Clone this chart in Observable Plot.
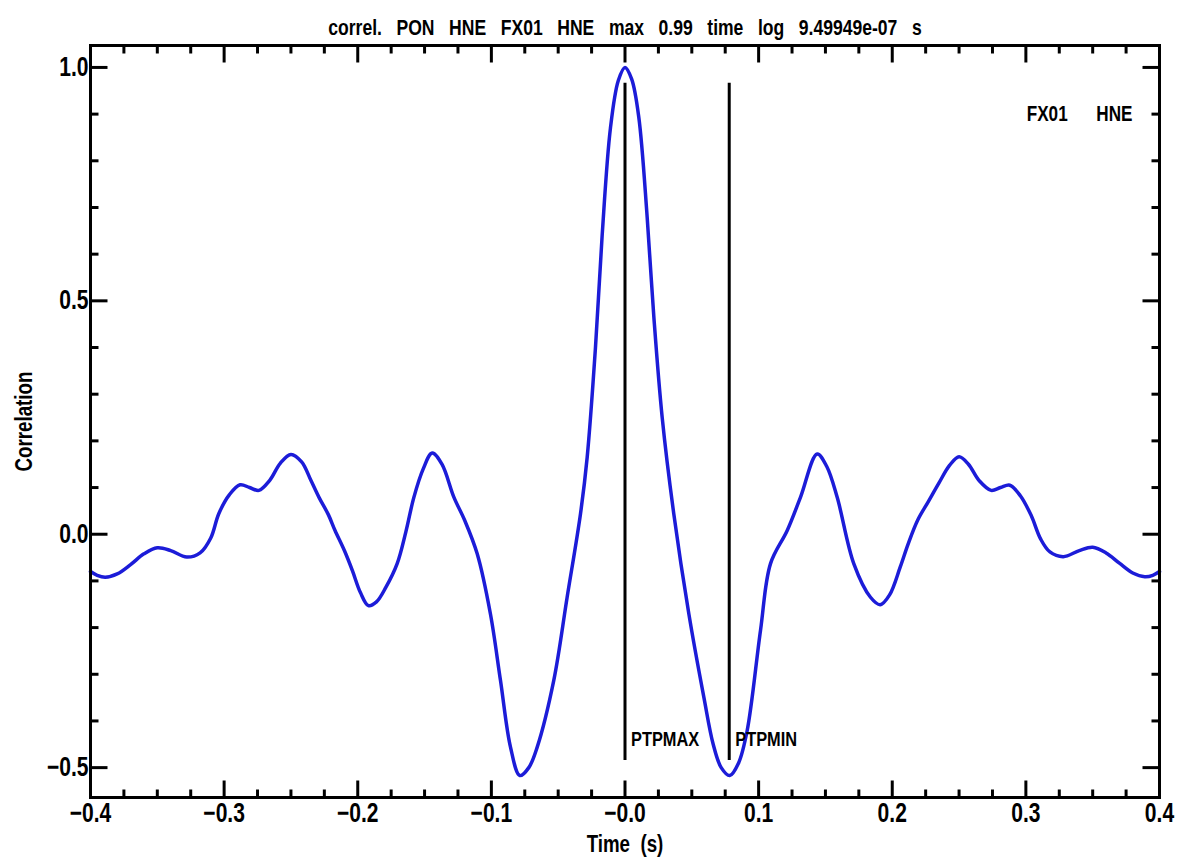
<!DOCTYPE html>
<html>
<head>
<meta charset="utf-8">
<script src="https://cdn.jsdelivr.net/npm/d3@7"></script>
<script src="https://cdn.jsdelivr.net/npm/@observablehq/plot@0.6"></script>
<style>
  html, body { margin: 0; padding: 0; background: #fff; }
  #chart svg { display: block; }
</style>
</head>
<body>
<div id="chart"></div>
<script>
// ---- data ----
const timeS = [
  -0.400, -0.395, -0.389, -0.380, -0.370, -0.360, -0.350, -0.340, -0.328, -0.318,
  -0.310, -0.304, -0.296, -0.288, -0.281, -0.274, -0.266, -0.258, -0.250, -0.242,
  -0.235, -0.229, -0.222, -0.217, -0.210, -0.204, -0.198, -0.192, -0.186, -0.179,
  -0.1705, -0.164, -0.158, -0.151, -0.1443, -0.137, -0.128, -0.120, -0.1106, -0.1007,
  -0.0932, -0.0857, -0.0787, -0.072, -0.0657, -0.0533, -0.0433, -0.0333, -0.0283, -0.0221,
  -0.0171, -0.0109, -0.005, 0.000, 0.005, 0.0103, 0.0166, 0.0216, 0.0278, 0.0365,
  0.0478, 0.059, 0.066, 0.072, 0.0784, 0.085, 0.0914, 0.1014, 0.1089, 0.1214,
  0.1313, 0.1438, 0.151, 0.1588, 0.1712, 0.1837, 0.191, 0.198, 0.206, 0.212,
  0.219, 0.227, 0.235, 0.243, 0.250, 0.257, 0.265, 0.274, 0.281, 0.288,
  0.296, 0.304, 0.311, 0.318, 0.328, 0.340, 0.350, 0.360, 0.370, 0.380,
  0.389, 0.395, 0.400
];
const correlation = [
  -0.080, -0.088, -0.092, -0.085, -0.065, -0.042, -0.029, -0.035, -0.049, -0.040,
  -0.008, 0.044, 0.085, 0.106, 0.100, 0.094, 0.115, 0.152, 0.171, 0.155,
  0.115, 0.079, 0.042, 0.008, -0.035, -0.078, -0.125, -0.153, -0.145, -0.114,
  -0.063, 0.005, 0.079, 0.140, 0.174, 0.150, 0.079, 0.030, -0.042, -0.171,
  -0.313, -0.456, -0.517, -0.500, -0.456, -0.313, -0.135, 0.044, 0.165, 0.400,
  0.640, 0.870, 0.972, 1.000, 0.975, 0.894, 0.679, 0.465, 0.251, 0.044,
  -0.171, -0.349, -0.450, -0.500, -0.517, -0.490, -0.421, -0.206, -0.063, 0.008,
  0.079, 0.172, 0.145, 0.079, -0.063, -0.135, -0.151, -0.130, -0.070, -0.020,
  0.030, 0.070, 0.110, 0.148, 0.166, 0.150, 0.115, 0.094, 0.100, 0.105,
  0.082, 0.040, -0.010, -0.038, -0.048, -0.035, -0.028, -0.040, -0.062, -0.083,
  -0.091, -0.088, -0.080
];

const markerNames = ["PTPMAX", "PTPMIN"];
const markerTimes = [0.000, 0.078];
const markerTop = [0.966, 0.966];
const markerBottom = [-0.485, -0.485];

const xMajorTicks = [-0.4, -0.3, -0.2, -0.1, 0.0, 0.1, 0.2, 0.3, 0.4];
const xMajorLabels = ["\u22120.4", "\u22120.3", "\u22120.2", "\u22120.1", "\u22120.0", "0.1", "0.2", "0.3", "0.4"];
const xMinorTicks = [-0.375, -0.35, -0.325, -0.275, -0.25, -0.225, -0.175, -0.15, -0.125,
  -0.075, -0.05, -0.025, 0.025, 0.05, 0.075, 0.125, 0.15, 0.175, 0.225, 0.25, 0.275, 0.325, 0.35, 0.375];
const yMajorTicks = [-0.5, 0.0, 0.5, 1.0];
const yMajorLabels = ["\u22120.5", "0.0", "0.5", "1.0"];
const yMinorTicks = [-0.4, -0.3, -0.2, -0.1, 0.1, 0.2, 0.3, 0.4, 0.6, 0.7, 0.8, 0.9];

const titleText = "correl.   PON   HNE   FX01   HNE   max   0.99   time   log   9.49949e-07   s";
const stationLabel = "FX01      HNE";
const xLabel = "Time  (s)";
const yLabel = "Correlation";

// ---- build ----
const series = timeS.map((t, i) => ({t, c: correlation[i]}));
const markers = markerNames.map((n, i) => ({name: n, t: markerTimes[i], top: markerTop[i], bottom: markerBottom[i]}));

const FONT = "'Liberation Sans', Arial, sans-serif";
const NARROW = 0.78; // horizontal squeeze to mimic the narrow plotting font
const tickLine = {draw(context, l) { context.moveTo(0, 0); context.lineTo(0, -l); }};
const tickCommon = {shape: tickLine, anchor: "start", stroke: "black", strokeWidth: 3, strokeLinecap: "butt"};
const txt = {fontWeight: "bold", fill: "black"};

const chart = Plot.plot({
  width: 1177,
  height: 863,
  marginLeft: 90,
  marginRight: 18,
  marginTop: 45,
  marginBottom: 66,
  style: {fontFamily: FONT, background: "white", color: "black"},
  x: {domain: [-0.4, 0.4], axis: null},
  y: {domain: [-0.564, 1.047], axis: null},
  marks: [
    // curve
    Plot.line(series, {x: "t", y: "c", stroke: "#1c1cd8", strokeWidth: 3.5, curve: "catmull-rom"}),
    // marker lines + labels
    Plot.ruleX(markers, {x: "t", y1: "bottom", y2: "top", stroke: "black", strokeWidth: 3}),
    Plot.text(markers, {x: "t", y: "bottom", text: "name", textAnchor: "start", lineAnchor: "middle",
      dx: 6, dy: -21, fontSize: 21, ...txt}),
    // frame
    Plot.frame({stroke: "black", strokeWidth: 3}),
    // ticks (inward, on all four sides)
    Plot.vector(xMajorTicks, {x: d => d, frameAnchor: "bottom", length: 17, rotate: 0, ...tickCommon}),
    Plot.vector(xMinorTicks, {x: d => d, frameAnchor: "bottom", length: 8, rotate: 0, ...tickCommon}),
    Plot.vector(xMajorTicks, {x: d => d, frameAnchor: "top", length: 17, rotate: 180, ...tickCommon}),
    Plot.vector(xMinorTicks, {x: d => d, frameAnchor: "top", length: 8, rotate: 180, ...tickCommon}),
    Plot.vector(yMajorTicks, {y: d => d, frameAnchor: "left", length: 17, rotate: 90, ...tickCommon}),
    Plot.vector(yMinorTicks, {y: d => d, frameAnchor: "left", length: 8, rotate: 90, ...tickCommon}),
    Plot.vector(yMajorTicks, {y: d => d, frameAnchor: "right", length: 17, rotate: -90, ...tickCommon}),
    Plot.vector(yMinorTicks, {y: d => d, frameAnchor: "right", length: 8, rotate: -90, ...tickCommon}),
    // tick labels
    Plot.text(xMajorTicks, {x: d => d, text: (d, i) => xMajorLabels[i], frameAnchor: "bottom",
      lineAnchor: "top", dy: 5, fontSize: 27, ...txt}),
    Plot.text(yMajorTicks, {y: d => d, text: (d, i) => yMajorLabels[i], frameAnchor: "left",
      textAnchor: "end", lineAnchor: "middle", dx: -2, fontSize: 27, ...txt}),
    // axis titles, title, station label
    Plot.text([xLabel], {text: d => d, frameAnchor: "bottom", textAnchor: "middle", lineAnchor: "middle", dy: 47,
      fontSize: 24, ...txt}),
    Plot.text([yLabel], {text: d => d, frameAnchor: "left", textAnchor: "middle", rotate: -90, lineAnchor: "middle",
      dx: -66, fontSize: 24, ...txt}),
    Plot.text([titleText], {text: d => d, frameAnchor: "top", textAnchor: "middle", lineAnchor: "middle", dy: -18,
      fontSize: 22.5, ...txt}),
    Plot.text([stationLabel], {text: d => d, frameAnchor: "top-right", textAnchor: "end", lineAnchor: "middle",
      dx: -27, dy: 68, fontSize: 22, ...txt})
  ]
});
d3.select(chart).selectAll("text").each(function () {
  this.style.whiteSpace = "pre";
  const tr = this.getAttribute("transform");
  if (tr) {
    this.setAttribute("transform", tr + ` scale(${NARROW},1)`);
  } else {
    const x = +this.getAttribute("x") || 0;
    this.setAttribute("transform", `translate(${x},0) scale(${NARROW},1)`);
    this.setAttribute("x", 0);
  }
});
document.getElementById("chart").appendChild(chart);
</script>
</body>
</html>
